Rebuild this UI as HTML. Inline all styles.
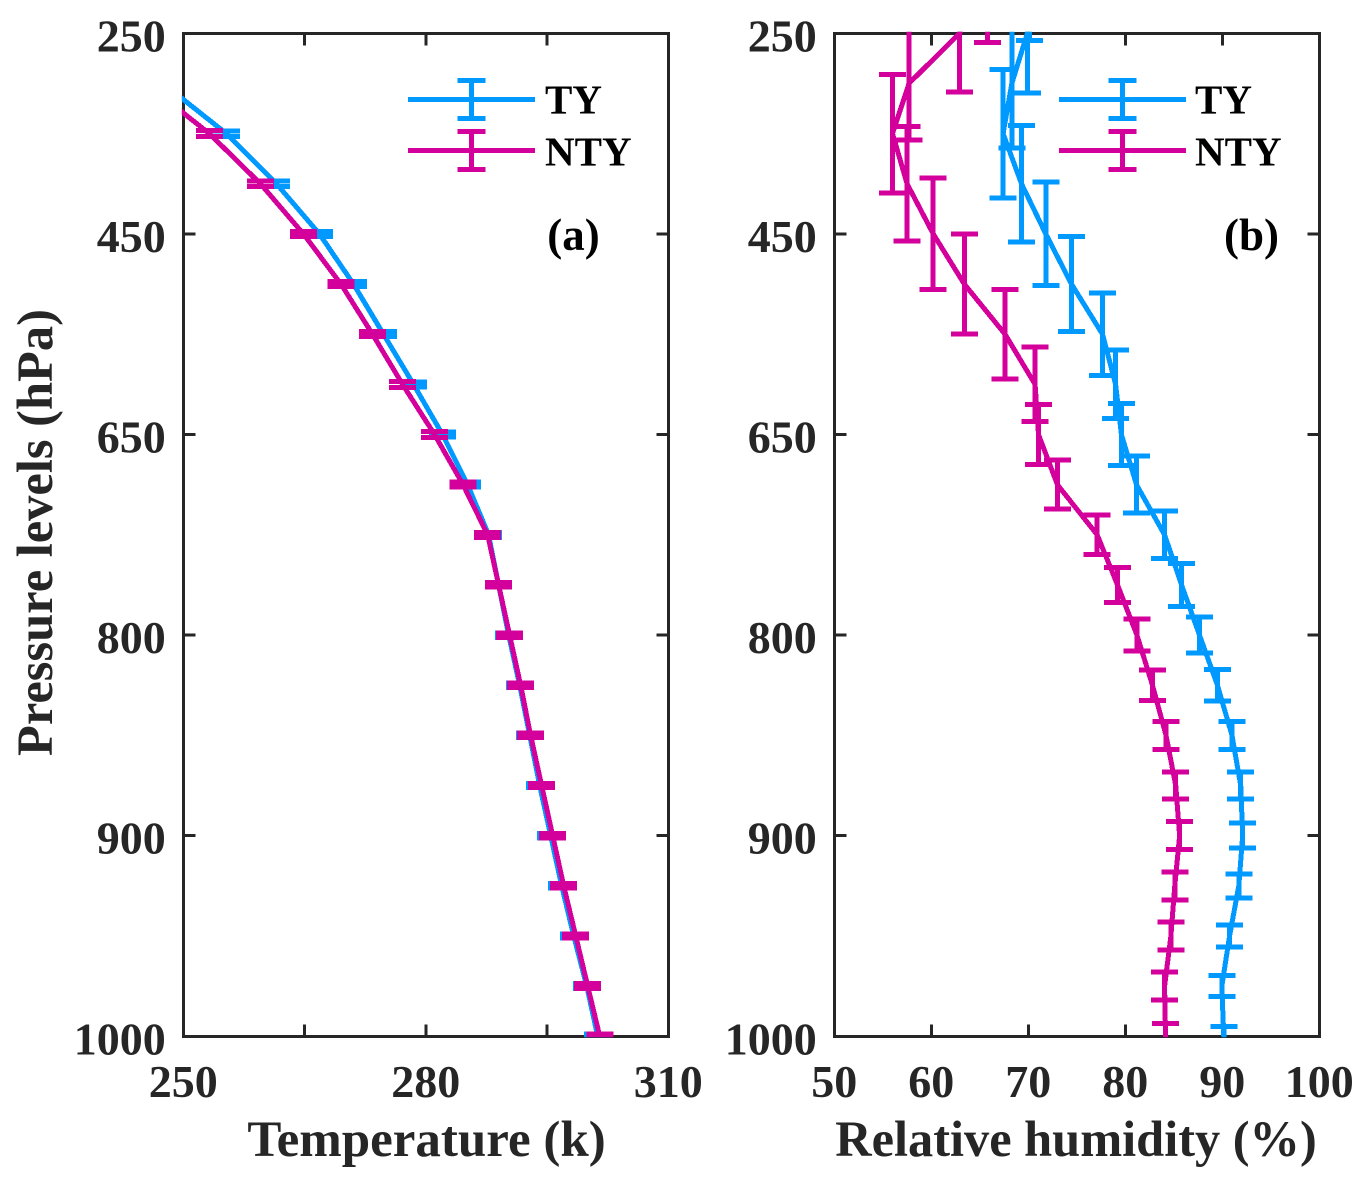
<!DOCTYPE html>
<html lang="en">
<head>
<meta charset="utf-8">
<title>Temperature and relative humidity profiles</title>
<style>
html,body{margin:0;padding:0;background:#fff;}
svg{display:block;}
text{font-family:"Liberation Serif",serif;font-weight:bold;fill:#262626;}
</style>
</head>
<body>
<svg id="chart" xmlns="http://www.w3.org/2000/svg" width="1371" height="1185" viewBox="0 0 1371 1185">
  <defs>
    <clipPath id="clip-a"><rect x="181.8" y="31.8" width="488" height="1005.5"/></clipPath>
    <clipPath id="clip-b"><rect x="832.8" y="31.8" width="488" height="1005.5"/></clipPath>
  </defs>
  <g id="panel-a">
    <rect x="183.3" y="33.3" width="485" height="1003" fill="none" stroke="#262626" stroke-width="3" shape-rendering="crispEdges"/>
    <g id="ticks-a"></g>
    <g id="marks-a" clip-path="url(#clip-a)"></g>
    <text x="573.5" y="250" font-size="45" text-anchor="middle" style="fill:#000">(a)</text>
    <text x="426.5" y="1156" font-size="51" text-anchor="middle">Temperature (k)</text>
    <text transform="translate(52,532.5) rotate(-90)" x="0" y="0" font-size="50.5" text-anchor="middle">Pressure levels (hPa)</text>
  </g>
  <g id="panel-b">
    <rect x="834.3" y="33.3" width="485" height="1003" fill="none" stroke="#262626" stroke-width="3" shape-rendering="crispEdges"/>
    <g id="ticks-b"></g>
    <g id="marks-b" clip-path="url(#clip-b)"></g>
    <text x="1251.5" y="250" font-size="45" text-anchor="middle" style="fill:#000">(b)</text>
    <text x="1076" y="1156" font-size="50.4" text-anchor="middle">Relative humidity (%)</text>
  </g>
  <g id="legend-a"></g>
  <g id="legend-b"></g>
</svg>
<script>
// Pressure levels (hPa); the first level sits above the visible axis range
const levels = [200,250,300,350,400,450,500,550,600,650,700,750,775,800,825,850,875,900,925,950,975,1000];
const yTickLabels = [250,450,650,800,900,1000];
const tempTicks = [250,265,280,295,310];
const tempTickLabels = [250,280,310];
const rhTicks = [50,60,70,80,90,100];
const rhTickLabels = [50,60,70,80,90,100];
const seriesNames = ['TY','NTY'];

// Temperature (K)
const tempTY = [230,240.5,247.5,255.33,261.52,266.84,271.05,274.77,278.48,282.07,285.17,287.77,289.01,290.25,291.61,292.85,294.09,295.45,296.81,298.3,299.91,301.27];
const tempNTY = [226,236,245.4,253.22,259.54,264.86,269.5,273.41,277.12,281.08,284.61,287.65,289.01,290.37,291.73,292.97,294.33,295.7,297.06,298.55,300.03,301.52];
// Temperature error, in level steps
const tempErrTY = [0.05,0.05,0.05,0.055,0.055,0.05,0.05,0.05,0.05,0.05,0.05,0.05,0.044,0.044,0.044,0.044,0.036,0.044,0.044,0.044,0.05,0.05];
const tempErrNTY = [0.06,0.06,0.06,0.058,0.055,0.05,0.05,0.05,0.058,0.06,0.05,0.05,0.044,0.044,0.044,0.044,0.036,0.044,0.044,0.044,0.05,0.05];

// Relative humidity (%)
const rhTY = [70.1,69.9,68.3,67.4,69.3,71.8,74.45,77.65,79.0,79.6,81.15,84.05,85.8,87.65,89.5,91.0,91.9,92.1,91.7,90.75,89.95,90.15];
const rhNTY = [65.8,62.9,57.7,56.0,57.5,60.2,63.4,67.6,70.7,71.05,73.0,77.1,79.2,81.2,82.8,84.2,85.2,85.6,85.1,84.7,84.05,84.15];
// Humidity error, in level steps
const rhErrTY = [1.14,1.19,1.29,1.28,1.16,1.03,0.95,0.82,0.68,0.62,0.57,0.47,0.43,0.36,0.31,0.28,0.27,0.25,0.24,0.22,0.21,0.20];
const rhErrNTY = [1.18,1.17,1.13,1.18,1.14,1.11,1.0,0.89,0.74,0.6,0.49,0.39,0.35,0.32,0.3,0.28,0.27,0.28,0.28,0.28,0.28,0.26];

const NS = 'http://www.w3.org/2000/svg';
const BLUE = '#0099ff';
const MAGENTA = '#d4009b';
const AXIS = '#262626';
const TOP = 33.3, BOTTOM = 1036.3, PANEL_W = 485;
const A_LEFT = 183.3, B_LEFT = 834.3;

function yScale(levelIndex) { return TOP + (levelIndex - 1) * (BOTTOM - TOP) / 20; }
function xTemp(v) { return A_LEFT + (v - 250) * PANEL_W / 60; }
function xRh(v) { return B_LEFT + (v - 50) * PANEL_W / 50; }
function errPx(e) { return e * (BOTTOM - TOP) / 20; }

function mk(tag, attrs) {
  const el = document.createElementNS(NS, tag);
  for (const k in attrs) el.setAttribute(k, attrs[k]);
  return el;
}
function segment(parent, x1, y1, x2, y2, color, width, name) {
  const el = mk('line', {x1: x1, y1: y1, x2: x2, y2: y2, stroke: color, 'stroke-width': width, 'shape-rendering': 'crispEdges'});
  
  
  parent.appendChild(el);
  return el;
}
function label(parent, x, y, str, anchor, size, name) {
  const el = mk('text', {x: x, y: y, 'text-anchor': anchor, 'font-size': size});
  el.textContent = str;
  
  
  parent.appendChild(el);
  return el;
}
function drawSeries(parent, values, errs, xFn, color, key) {
  const g = mk('g', {});
  
  
  parent.appendChild(g);
  const pts = values.map(function (v, i) { return xFn(v).toFixed(2) + ',' + yScale(i).toFixed(2); }).join(' ');
  const path = mk('polyline', {points: pts, fill: 'none', stroke: color, 'stroke-width': 5, 'stroke-linejoin': 'round', 'shape-rendering': 'crispEdges'});
  
  
  g.appendChild(path);
  values.forEach(function (v, i) {
    const x = xFn(v), y = yScale(i), e = errPx(errs[i]), cap = 13.5;
    const bar = mk('path', {
      d: 'M' + x + ' ' + (y - e) + 'V' + (y + e) + 'M' + (x - cap) + ' ' + (y - e) + 'H' + (x + cap) + 'M' + (x - cap) + ' ' + (y + e) + 'H' + (x + cap),
      fill: 'none', stroke: color, 'stroke-width': 5, 'shape-rendering': 'crispEdges'
    });
    
    
    g.appendChild(bar);
  });
}
function drawTicks(parent, left, xTicks, xLabels, xFn, prefix) {
  const len = 12, right = left + PANEL_W;
  xTicks.forEach(function (t) {
    const x = xFn(t);
    segment(parent, x, BOTTOM, x, BOTTOM - len, AXIS, 3, prefix + '-bottom-tick-' + t);
    segment(parent, x, TOP, x, TOP + len, AXIS, 3, prefix + '-top-tick-' + t);
  });
  xLabels.forEach(function (t) {
    label(parent, xFn(t), 1097, String(t), 'middle', 46, prefix + '-x-tick-label-' + t);
  });
  yTickLabels.forEach(function (lv) {
    const y = yScale(levels.indexOf(lv));
    segment(parent, left, y, left + len, y, AXIS, 3, prefix + '-left-tick-' + lv);
    segment(parent, right, y, right - len, y, AXIS, 3, prefix + '-right-tick-' + lv);
    label(parent, left - 17.5, y + 18, String(lv), 'end', 46, prefix + '-y-tick-label-' + lv);
  });
}
function drawLegend(parent, dx, textDx, prefix) {
  const colors = [BLUE, MAGENTA], rows = [99.5, 150.5], baselines = [113.5, 165.5];
  seriesNames.forEach(function (name, i) {
    const y = rows[i], sx = 471.7 + dx;
    const g = mk('g', {});
    
    
    parent.appendChild(g);
    segment(g, 408 + dx, y, 535 + dx, y, colors[i], 5, prefix + '-legend-line-' + name.toLowerCase());
    segment(g, sx, y - 19, sx, y + 19, colors[i], 5, prefix + '-legend-stem-' + name.toLowerCase());
    segment(g, sx - 14, y - 19, sx + 14, y - 19, colors[i], 5, prefix + '-legend-top-cap-' + name.toLowerCase());
    segment(g, sx - 14, y + 19, sx + 14, y + 19, colors[i], 5, prefix + '-legend-bottom-cap-' + name.toLowerCase());
    const t = label(g, 545 + textDx, baselines[i], name, 'start', 41, prefix + '-legend-label-' + name.toLowerCase());
    t.style.fill = '#000';
  });
}

const marksA = document.getElementById('marks-a');
const marksB = document.getElementById('marks-b');
drawSeries(marksA, tempTY, tempErrTY, xTemp, BLUE, 'temperature-ty');
drawSeries(marksA, tempNTY, tempErrNTY, xTemp, MAGENTA, 'temperature-nty');
drawSeries(marksB, rhTY, rhErrTY, xRh, BLUE, 'humidity-ty');
drawSeries(marksB, rhNTY, rhErrNTY, xRh, MAGENTA, 'humidity-nty');
drawTicks(document.getElementById('ticks-a'), A_LEFT, tempTicks, tempTickLabels, xTemp, 'temperature');
drawTicks(document.getElementById('ticks-b'), B_LEFT, rhTicks, rhTickLabels, xRh, 'humidity');
drawLegend(document.getElementById('legend-a'), 0, 0, 'temperature');
drawLegend(document.getElementById('legend-b'), 651, 650, 'humidity');
</script>
</body>
</html>
